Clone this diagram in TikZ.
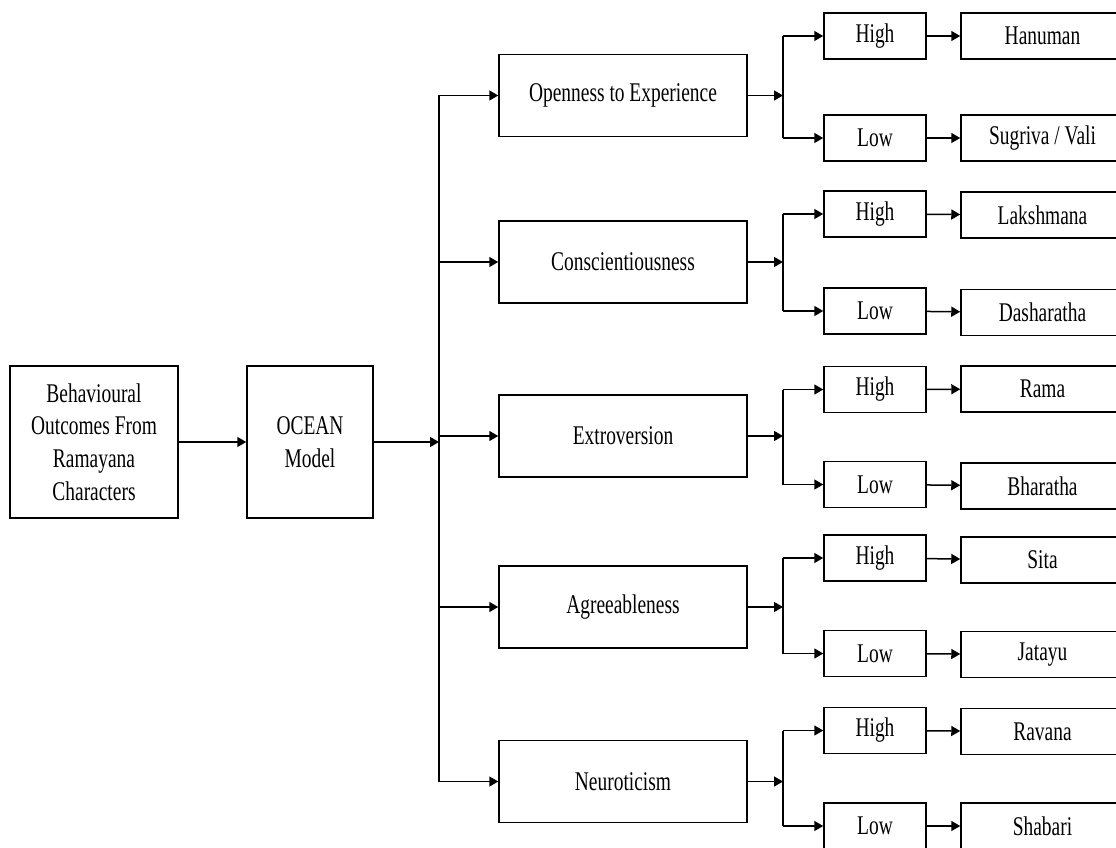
\documentclass[tikz,border=0pt]{standalone}
\usepackage{fontspec}
\setmainfont{Liberation Serif}[FakeStretch=0.72]
\usetikzlibrary{arrows.meta}
\begin{document}
\begin{tikzpicture}[x=1pt,y=-1pt,
  box/.style={draw=black,line width=1.5pt,rectangle,inner sep=0pt,align=center,
    font=\fontsize{27}{32.7}\selectfont},
  trait/.style={box,minimum width=248pt,minimum height=82pt},
  lvl/.style={box,minimum width=102pt,minimum height=46pt},
  chr/.style={box,minimum width=163pt,minimum height=46pt},
  arr/.style={line width=1.5pt,-{Triangle[length=9pt,width=10pt]}},
  ln/.style={line width=1.5pt}]
\clip (0,0) rectangle (1116,848);
\fill[white] (0,0) rectangle (1116,848);

\node[box,minimum width=168pt,minimum height=152pt] (behav) at (94,442)
  {Behavioural\\Outcomes From\\Ramayana\\Characters};
\node[box,minimum width=126pt,minimum height=152pt] (ocean) at (310,442) {OCEAN\\Model};

\node[trait] (t1) at (623,95.5) {Openness to Experience};
\node[trait] (t2) at (623,262) {Conscientiousness};
\node[trait] (t3) at (623,436) {Extroversion};
\node[trait] (t4) at (623,607) {Agreeableness};
\node[trait] (t5) at (623,781.5) {Neuroticism};

\node[lvl] (h1) at (875,36) {High};
\node[lvl] (l1) at (875,138) {Low};
\node[lvl] (h2) at (875,214) {High};
\node[lvl] (l2) at (875,311) {Low};
\node[lvl] (h3) at (875,389.5) {High};
\node[lvl] (l3) at (875,484.5) {Low};
\node[lvl] (h4) at (875,558) {High};
\node[lvl] (l4) at (875,653.5) {Low};
\node[lvl] (h5) at (875,730.5) {High};
\node[lvl] (l5) at (875,826) {Low};

\node[chr] (c1) at (1042.5,36) {Hanuman};
\node[chr] (d1) at (1042.5,138) {Sugriva / Vali};
\node[chr] (c2) at (1042.5,215) {Lakshmana};
\node[chr] (d2) at (1042.5,312.5) {Dasharatha};
\node[chr] (c3) at (1042.5,389) {Rama};
\node[chr] (d3) at (1042.5,486) {Bharatha};
\node[chr] (c4) at (1042.5,560) {Sita};
\node[chr] (d4) at (1042.5,654.5) {Jatayu};
\node[chr] (c5) at (1042.5,731.5) {Ravana};
\node[chr] (d5) at (1042.5,826) {Shabari};

\coordinate (spine) at (439,442);
\draw[arr] (behav) -- (ocean);
\draw[arr] (ocean) -- (spine);
\draw[ln] (spine |- t1) -- (spine |- t5);

\foreach \i in {1,...,5}{
  \coordinate (b\i) at (783,0 |- t\i);
  \draw[arr] (spine |- t\i) -- (t\i);
  \draw[arr] (t\i) -- (b\i);
  \draw[ln] (b\i |- h\i) -- (b\i |- l\i);
  \draw[arr] (b\i |- h\i) -- (h\i);
  \draw[arr] (b\i |- l\i) -- (l\i);
}
\draw[arr] (h1) -- (c1); \draw[arr] (l1) -- (d1);
\draw[arr] (h2) -- (c2); \draw[arr] (l2) -- (d2);
\draw[arr] (h3) -- (c3); \draw[arr] (l3) -- (d3);
\draw[arr] (h4) -- (c4); \draw[arr] (l4) -- (d4);
\draw[arr] (h5) -- (c5); \draw[arr] (l5) -- (d5);
\end{tikzpicture}
\end{document}
